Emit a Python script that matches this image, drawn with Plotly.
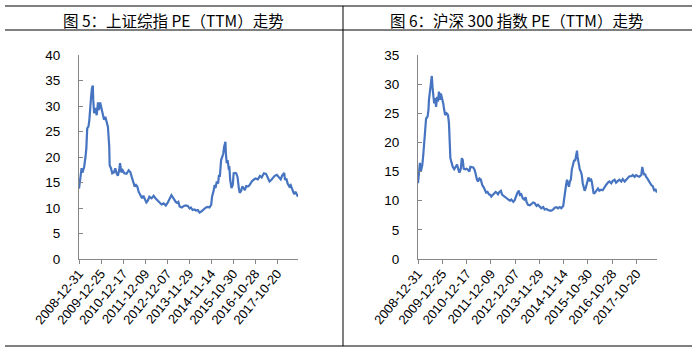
import plotly.graph_objects as go

tick_labels = ["2008-12-31", "2009-12-25", "2010-12-17", "2011-12-09", "2012-12-07",
               "2013-11-29", "2014-11-14", "2015-10-30", "2016-10-28", "2017-10-20"]
tick_weeks = [0, 51, 102, 153, 204, 255, 306, 357, 408, 459]

# 上证综指 PE(TTM), week index since 2008-12-31
sh_idx = [0,4,6,8,12,15,17,19,22,24, 26,28,30,32,33,35,38,41,44,46,
          49,51,54,58,61,64,67,70,71,74, 77,81,84,87,90,93,95,98,101,105,
          110,115,119,122,126,129,132,135,138,142, 146,149,152,156,159,163,168,173,177,182,
          187,191,196,201,205,210,214,218,221,224, 227,230,233,238,243,247,252,256,259,263,
          267,271,275,279,283,287,291,294,298,302, 306,308,312,314,316,319,322,324,326,329,
          332,334,336,339,340,342,344,347,348,350, 353,356,358,361,364,367,370,372,375,378,
          381,384,387,391,395,400,405,409,414,419, 423,428,433,437,441,445,449,453,458,463,
          467,470,475,477,480,483,487,490,494,498, 501,504,507]
sh_pe = [13.8,16.1,17.8,16.9,18.1,20.0,21.7,25.6,26.0,27.3, 30.5,31.8,33.5,34.0,31.2,28.6,29.6,28.2,30.7,29.2,
         30.7,29.8,28.9,27.3,27.9,26.9,25.9,22.0,18.4,17.8, 16.8,17.0,17.8,16.8,16.3,17.4,18.8,17.0,17.4,16.8,
         16.7,17.4,17.0,16.1,14.8,14.2,14.5,14.2,13.2,12.4, 11.9,12.4,11.9,11.1,11.4,12.2,11.9,12.4,11.9,11.4,
         11.0,10.7,10.9,10.5,11.0,11.9,12.5,12.0,11.5,11.2, 11.0,11.2,10.3,10.1,10.4,10.5,10.4,9.9,10.1,9.6,
         9.7,9.5,9.6,9.1,9.3,9.6,9.8,10.1,10.2,10.1, 10.6,12.2,13.5,14.5,13.9,15.2,14.8,16.5,16.1,19.4,
         20.1,20.7,22.0,23.0,20.7,18.8,19.4,17.5,18.2,15.5, 13.9,14.5,16.8,16.9,16.8,16.1,13.9,13.0,13.3,14.2,
         13.9,13.5,14.3,14.2,14.5,15.2,15.6,15.8,15.6,16.3, 16.0,16.8,16.7,16.0,15.2,15.5,16.0,16.3,16.5,16.1,
         15.6,16.3,16.9,15.5,15.8,14.8,14.2,14.5,13.5,12.7, 13.2,12.5,12.2]

# 沪深300 PE(TTM)
hs_idx = [0,2,4,6,9,11,13,15,17,20, 22,23,25,27,29,31,34,36,38,40,
          42,44,46,48,51,53,55,57,60,63, 65,66,68,71,73,76,79,82,85,87,
          90,92,94,96,99,102,105,108,110,113, 116,119,121,124,126,129,132,135,138,140,
          143,146,149,152,154,157,160,163,166,168, 171,174,177,180,182,186,189,193,196,200,
          203,206,209,212,214,217,220,223,226,228, 231,235,238,242,245,249,252,256,259,263,
          266,270,273,277,280,284,287,291,294,298, 301,305,307,309,311,313,315,317,319,321,
          323,326,328,330,332,334,335,337,340,342, 344,346,348,350,352,354,356,358,361,363,
          365,367,369,372,375,378,381,385,388,392, 395,399,402,406,409,413,416,420,423,427,
          430,434,437,441,444,448,451,455,458,462, 465,469,471,473,475,477,479,482,485,488,
          490,493,496,499,502]
hs_pe = [13.0,15.3,16.5,15.0,16.1,17.8,19.8,21.6,24.1,24.4, 25.6,27.3,28.4,30.1,31.4,29.0,26.7,27.6,26.1,27.8,
         27.0,28.7,27.3,28.4,27.6,26.7,25.6,24.7,25.0,24.7, 23.3,19.8,17.3,16.4,15.8,15.4,15.8,16.2,15.3,14.8,
         15.5,17.3,17.0,15.5,15.4,15.5,15.3,15.0,15.8,15.8, 15.7,15.3,14.4,13.6,13.3,13.8,13.6,12.7,12.3,11.8,
         11.4,11.5,11.1,11.0,10.7,11.0,11.3,11.5,11.3,11.1, 11.5,11.7,11.0,10.8,10.7,10.5,10.2,10.0,10.2,9.8,
         10.1,10.8,11.4,11.7,11.0,11.1,10.4,10.2,10.6,9.8, 9.3,9.2,9.5,9.7,9.6,9.1,9.3,8.9,8.7,8.9,
         8.5,8.6,8.4,8.3,8.3,8.5,8.8,8.9,8.7,8.9, 8.7,9.1,10.7,11.5,12.7,13.6,13.0,12.4,13.3,13.6,
         15.3,16.4,17.0,16.8,17.6,18.6,17.6,16.4,15.3,15.0, 14.4,13.0,12.1,11.7,12.1,12.7,13.6,14.0,13.3,13.8,
         13.3,11.8,11.2,11.4,11.8,12.1,11.7,11.9,11.8,12.4, 12.7,13.1,13.3,13.0,13.4,13.6,13.1,13.4,13.6,13.3,
         13.7,13.3,13.6,14.0,14.2,14.2,14.4,14.1,14.4,14.2, 14.1,14.4,15.8,15.0,14.4,14.6,14.1,13.8,13.3,13.0,
         12.7,12.5,11.8,11.9,11.4]

titles = ["图 5：上证综指 PE（TTM）走势", "图 6：沪深 300 指数 PE（TTM）走势"]

LINE = "#4674C1"
AX = "#868686"
yfont = dict(family="Liberation Sans, Arial, sans-serif", size=13.5, color="#000000")
xfont = dict(family="Liberation Sans, Arial, sans-serif", size=13, color="#000000")

fig = go.Figure()
fig.add_trace(go.Scatter(x=sh_idx, y=sh_pe, mode="lines", line=dict(color=LINE, width=2.2),
                         xaxis="x", yaxis="y", showlegend=False, hoverinfo="skip"))
fig.add_trace(go.Scatter(x=hs_idx, y=hs_pe, mode="lines", line=dict(color=LINE, width=2.2),
                         xaxis="x2", yaxis="y2", showlegend=False, hoverinfo="skip"))

W, H = 700, 354
ydom = [(H - 259) / H, (H - 55) / H]

def xax(dom, rng, anchor):
    return dict(domain=dom, range=rng, anchor=anchor, tickmode="array", tickvals=tick_weeks,
                ticktext=tick_labels, tickangle=-50, ticks="outside", ticklen=4, tickcolor=AX,
                tickwidth=1, showline=True, linecolor=AX, linewidth=1, showgrid=False,
                zeroline=False, tickfont=xfont, automargin=False, ticklabelstandoff=-3)

def yax(rng, anchor):
    return dict(domain=ydom, range=rng, anchor=anchor, dtick=5, ticks="inside", ticklen=4,
                tickcolor=AX, tickwidth=1, showline=True, linecolor=AX, linewidth=1,
                showgrid=False, zeroline=False, tickfont=yfont,
                ticklabelstandoff=15, automargin=False)

fig.update_layout(
    width=W, height=H, margin=dict(l=0, r=0, t=0, b=0, autoexpand=False),
    paper_bgcolor="white", plot_bgcolor="white",
    xaxis=xax([79 / W, 298 / W], [0, 507], "y"),
    yaxis=yax([0, 40], "x"),
    xaxis2=xax([418 / W, 657 / W], [0, 502], "y2"),
    yaxis2=yax([0, 35], "x2"),
)

for t, cx in zip(titles, [173, 516]):
    fig.add_annotation(text=t, x=cx / W, y=1 - 20 / H, xref="paper", yref="paper",
                       xanchor="center", yanchor="middle", showarrow=False,
                       font=dict(family="Noto Sans CJK SC", size=15.5, color="#000000"))

x0, x1 = 5 / W, 692 / W
for yy in [6, 30, 346]:
    fig.add_shape(type="line", xref="paper", yref="paper", x0=x0, x1=x1,
                  y0=1 - yy / H, y1=1 - yy / H, line=dict(color="#000000", width=1))
fig.add_shape(type="line", xref="paper", yref="paper", x0=343 / W, x1=343 / W,
              y0=1 - 346 / H, y1=1 - 6 / H, line=dict(color="#000000", width=1))

fig.write_html("out.html")
